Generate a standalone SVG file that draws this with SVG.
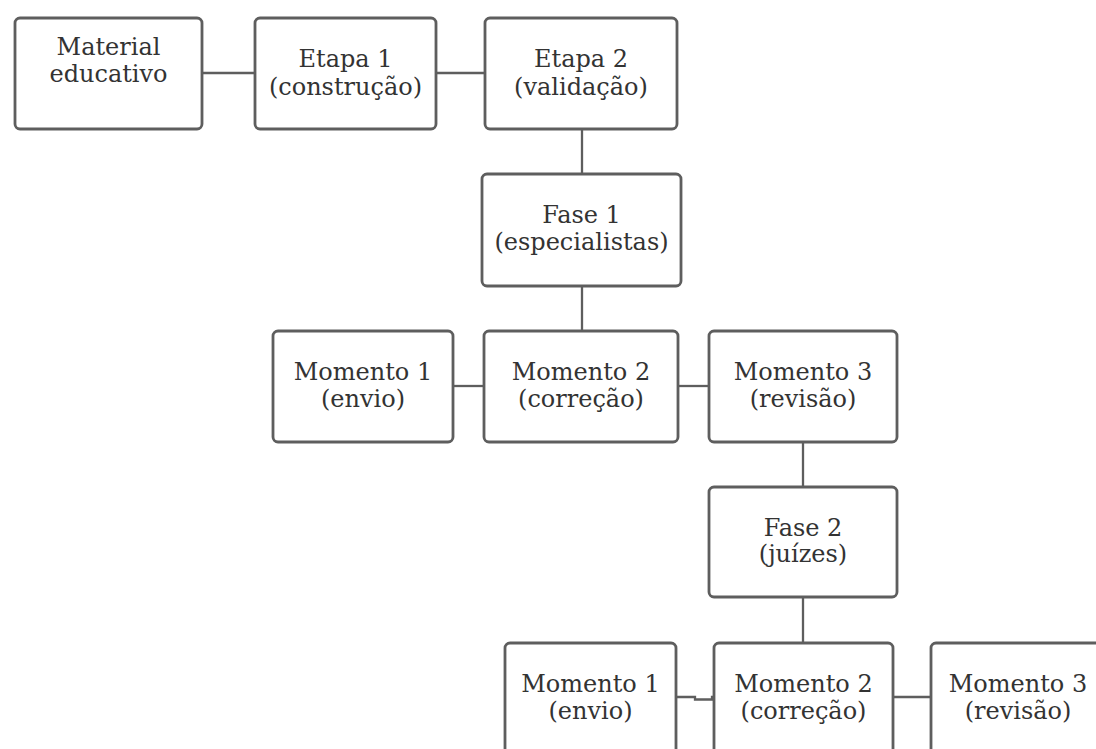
<svg xmlns="http://www.w3.org/2000/svg" width="1096" height="749" viewBox="0 0 1096 749">
<style>
.box{fill:#ffffff;stroke:#5e5e5e;stroke-width:2.8}
.ln{fill:none;stroke:#5e5e5e;stroke-width:2.3}
text{font-family:"DejaVu Serif","Liberation Serif",serif;font-size:24px;fill:#333333;text-anchor:middle}
</style>
<rect width="1096" height="749" fill="#ffffff"/>
<g id="connectors">
<line class="ln" x1="202" y1="73" x2="255" y2="73"/>
<line class="ln" x1="436" y1="73" x2="485" y2="73"/>
<line class="ln" x1="582" y1="129" x2="582" y2="174"/>
<line class="ln" x1="582" y1="286" x2="582" y2="331"/>
<line class="ln" x1="453" y1="386" x2="484" y2="386"/>
<line class="ln" x1="678" y1="386" x2="709" y2="386"/>
<line class="ln" x1="803" y1="442" x2="803" y2="487"/>
<line class="ln" x1="803" y1="597" x2="803" y2="643"/>
<path class="ln" d="M676,697 H695 V699.5 H712 V697 H714"/>
<line class="ln" x1="893" y1="697" x2="931" y2="697"/>
</g>
<g id="n-material"><rect class="box" x="15" y="18" width="187" height="111" rx="5"/><text x="108.5" y="55">Material</text><text x="108.5" y="82">educativo</text></g>
<g id="n-etapa1"><rect class="box" x="255" y="18" width="181" height="111" rx="5"/><text x="345.5" y="67">Etapa 1</text><text x="345.5" y="95">(construção)</text></g>
<g id="n-etapa2"><rect class="box" x="485" y="18" width="192" height="111" rx="5"/><text x="581" y="67">Etapa 2</text><text x="581" y="95">(validação)</text></g>
<g id="n-fase1"><rect class="box" x="482" y="174" width="199" height="112" rx="5"/><text x="581.5" y="223">Fase 1</text><text x="581.5" y="250">(especialistas)</text></g>
<g id="n-m1a"><rect class="box" x="273" y="331" width="180" height="111" rx="5"/><text x="363" y="380">Momento 1</text><text x="363" y="407">(envio)</text></g>
<g id="n-m2a"><rect class="box" x="484" y="331" width="194" height="111" rx="5"/><text x="581" y="380">Momento 2</text><text x="581" y="407">(correção)</text></g>
<g id="n-m3a"><rect class="box" x="709" y="331" width="188" height="111" rx="5"/><text x="803" y="380">Momento 3</text><text x="803" y="407">(revisão)</text></g>
<g id="n-fase2"><rect class="box" x="709" y="487" width="188" height="110" rx="5"/><text x="803" y="536">Fase 2</text><text x="803" y="562">(juízes)</text></g>
<g id="n-m1b"><rect class="box" x="505" y="643" width="171" height="112" rx="5"/><text x="590.5" y="692">Momento 1</text><text x="590.5" y="719">(envio)</text></g>
<g id="n-m2b"><rect class="box" x="714" y="643" width="179" height="112" rx="5"/><text x="803.5" y="692">Momento 2</text><text x="803.5" y="719">(correção)</text></g>
<g id="n-m3b"><rect class="box" x="931" y="643" width="174" height="112" rx="5"/><text x="1018" y="692">Momento 3</text><text x="1018" y="719">(revisão)</text></g>
</svg>
